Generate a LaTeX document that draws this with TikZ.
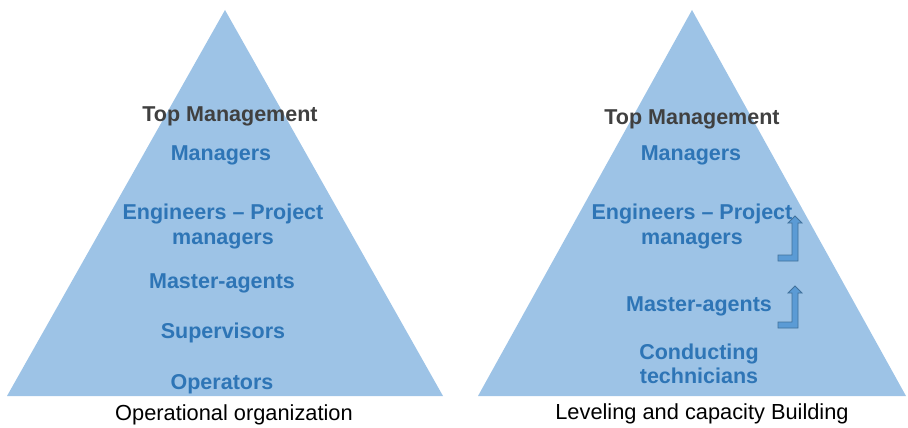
\documentclass[tikz,border=0pt]{standalone}
\usepackage{fontspec}
\setmainfont{Liberation Sans}
\definecolor{trifill}{HTML}{9DC3E6}
\definecolor{txtblue}{HTML}{2E75B6}
\definecolor{txtgray}{HTML}{404040}
\definecolor{arrfill}{HTML}{5B9BD5}
\definecolor{arrline}{HTML}{41719C}
\begin{document}
\begin{tikzpicture}[x=1pt,y=-1pt,
  lvl/.style={font=\fontsize{21.5}{24}\selectfont\bfseries, text=txtblue, align=center, inner sep=0pt},
  toplvl/.style={font=\fontsize{21.5}{24}\selectfont\bfseries, text=txtgray, inner sep=0pt},
  caption/.style={font=\fontsize{21.8}{24}\selectfont, text=black, inner sep=0pt},
  tri/.style={fill=trifill, draw=none},
  bentarrow/.style={fill=arrfill, draw=arrline, line width=0.8pt, line join=miter}]
\useasboundingbox (0,0) rectangle (908,428);
% left pyramid
\fill[tri] (7,396) -- (225,10) -- (443,396) -- cycle;
\node[toplvl] (l0) at (230,116) {Top Management};
\node[lvl] (l1) at (221,155) {Managers};
\node[lvl, font=\fontsize{21.5}{25}\selectfont\bfseries] (l2) at (223,226) {Engineers – Project\\managers};
\node[lvl] (l3) at (222,283) {Master-agents};
\node[lvl] (l4) at (223,333) {Supervisors};
\node[lvl] (l5) at (222,384) {Operators};
\node[caption] (lc) at (234,415) {Operational organization};
% right pyramid
\fill[tri] (478,396) -- (692,10) -- (906,396) -- cycle;
\node[toplvl] (r0) at (692,119) {Top Management};
\node[lvl] (r1) at (691,155) {Managers};
\node[lvl, font=\fontsize{21.5}{25}\selectfont\bfseries] (r2) at (692,226) {Engineers – Project\\managers};
\node[lvl] (r3) at (699,306) {Master-agents};
\node[lvl, font=\fontsize{21.5}{24}\selectfont\bfseries] (r4) at (699,364) {Conducting\\technicians};
\node[caption] (rc) at (702,414) {Leveling and capacity Building};
% bent-up arrows
\draw[bentarrow] (778,255) -- (792,255) -- (792,223) -- (788,223) -- (795,216) -- (802,223) -- (798,223) -- (798,261) -- (778,261) -- cycle;
\draw[bentarrow] (778,322) -- (792,322) -- (792,293) -- (788,293) -- (795,286) -- (802,293) -- (798,293) -- (798,328) -- (778,328) -- cycle;
\end{tikzpicture}
\end{document}
